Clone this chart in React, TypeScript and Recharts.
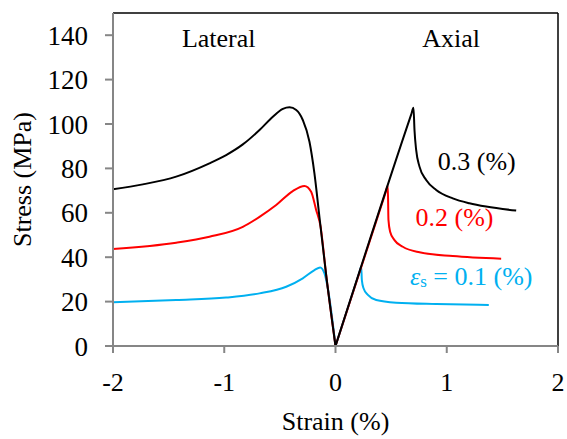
import { LineChart, Line, XAxis, YAxis, ReferenceLine, ReferenceDot, Label } from 'recharts'

// [strain %, stress MPa]
const blackLateral = [
  [-2.0, 70.6], [-1.732, 72.8], [-1.432, 76.3], [-1.133, 82.3], [-0.983, 86.0],
  [-0.833, 90.8], [-0.683, 97.3], [-0.563, 103.3], [-0.473, 106.8], [-0.413, 107.5],
  [-0.353, 106.3], [-0.294, 101.8], [-0.234, 92], [-0.19, 78], [-0.144, 58],
  [-0.084, 32], [0, 0],
]
const blackAxial = [
  [0, 0], [0.68, 104.2], [0.701, 107.3], [0.71, 97.3], [0.725, 88.3], [0.755, 80.8], [0.815, 74.8],
  [0.905, 70.3], [1.054, 66.5], [1.204, 64.3], [1.354, 62.8], [1.624, 61.0],
]
const redLateral = [
  [-2.0, 43.7], [-1.432, 46.5], [-1.133, 49.2], [-0.833, 53.7], [-0.683, 58.2],
  [-0.533, 63.5], [-0.384, 69.8], [-0.279, 72.1], [-0.219, 69.5], [-0.174, 61.3],
  [-0.135, 54], [-0.084, 32], [0, 0],
]
const redAxial = [
  [0, 0], [0.45, 69.1], [0.47, 72.2], [0.476, 56.8], [0.491, 51.5], [0.53, 47.7], [0.605, 44.7],
  [0.755, 42.2], [1.054, 40.5], [1.489, 39.3],
]
const blueLateral = [
  [-2.0, 19.7], [-1.432, 20.7], [-0.983, 21.8], [-0.683, 23.7], [-0.443, 26.7],
  [-0.294, 30.5], [-0.189, 34.2], [-0.138, 35.4], [-0.099, 32.7], [-0.069, 26], [0, 0],
]
const blueAxial = [
  [0, 0], [0.215, 33.2], [0.231, 35.7], [0.237, 29.7], [0.252, 26], [0.291, 23], [0.366, 20.7],
  [0.545, 19.5], [0.905, 18.9], [1.378, 18.5],
]

const xTicks = [-2, -1, 0, 1, 2]
const yTicks = [0, 20, 40, 60, 80, 100, 120, 140]

const toRows = (pts: number[][]) => pts.map(([x, y]) => ({ x, y }))

const FONT = 'Liberation Serif, Times New Roman, serif'
const AXIS = '#868686'
const BLUE = '#00B0F0'
const RED = '#FF0000'

const textAt = (content: any, color: string) => (p: any) => (
  <text
    x={p.cx}
    y={p.cy}
    textAnchor='middle'
    dominantBaseline='central'
    fontFamily={FONT}
    fontSize={26}
    fill={color}
  >
    {content}
  </text>
)

export default function App() {
  return (
    <div style={{ position: 'absolute', left: 0, top: 0, background: '#fff' }}>
      <LineChart width={567} height={439} margin={{ top: 13, right: 9, bottom: 0, left: 0 }}>
        <XAxis
          dataKey='x'
          type='number'
          domain={[-2, 2]}
          ticks={xTicks}
          stroke={AXIS}
          strokeWidth={2}
          tickSize={7}
          tickMargin={20}
          height={93}
          tick={{ fill: '#000', fontFamily: FONT, fontSize: 26 }}
        >
          <Label
            value='Strain (%)'
            position='insideBottom'
            offset={9}
            fontFamily={FONT}
            fontSize={26}
            fill='#000'
          />
        </XAxis>
        <YAxis
          type='number'
          domain={[0, 150]}
          ticks={yTicks}
          stroke={AXIS}
          strokeWidth={2}
          tickSize={8}
          tickMargin={17}
          width={113}
          tick={{ fill: '#000', fontFamily: FONT, fontSize: 27 }}
        >
          <Label
            content={(p: any) => {
              const vb = p.viewBox
              const cx = vb.x + 22
              const cy = vb.y + vb.height / 2
              return (
                <text
                  x={cx}
                  y={cy}
                  transform={`rotate(-90 ${cx} ${cy})`}
                  textAnchor='middle'
                  dominantBaseline='central'
                  fontFamily={FONT}
                  fontSize={26}
                  fill='#000'
                >
                  Stress (MPa)
                </text>
              )
            }}
          />
        </YAxis>
        <ReferenceLine y={150} stroke='#000' strokeWidth={1.5} />
        <ReferenceLine x={2} stroke='#000' strokeWidth={1.5} />

        <Line data={toRows(blueLateral)} dataKey='y' type='monotone' stroke={BLUE} strokeWidth={2} dot={false} isAnimationActive={false} />
        <Line data={toRows(blueAxial)} dataKey='y' type='monotone' stroke={BLUE} strokeWidth={2} dot={false} isAnimationActive={false} />
        <Line data={toRows(redLateral)} dataKey='y' type='monotone' stroke={RED} strokeWidth={2} dot={false} isAnimationActive={false} />
        <Line data={toRows(redAxial)} dataKey='y' type='monotone' stroke={RED} strokeWidth={2} dot={false} isAnimationActive={false} />
        <Line data={toRows(blackLateral)} dataKey='y' type='monotone' stroke='#000' strokeWidth={2} dot={false} isAnimationActive={false} />
        <Line data={toRows(blackAxial)} dataKey='y' type='monotone' stroke='#000' strokeWidth={2} dot={false} isAnimationActive={false} />

        <ReferenceDot x={-1.05} y={138.7} r={0} shape={textAt('Lateral', '#000')} />
        <ReferenceDot x={1.04} y={138.7} r={0} shape={textAt('Axial', '#000')} />
        <ReferenceDot x={1.27} y={82.9} r={0} shape={textAt('0.3 (%)', '#000')} />
        <ReferenceDot x={1.07} y={57.7} r={0} shape={textAt('0.2 (%)', RED)} />
        <ReferenceDot
          x={1.22}
          y={31.5}
          r={0}
          shape={textAt(
            <>
              <tspan fontStyle='italic'>ε</tspan>
              <tspan fontSize={17} dy={5}>s</tspan>
              <tspan dy={-5}> = 0.1 (%)</tspan>
            </>,
            BLUE
          )}
        />
      </LineChart>
    </div>
  )
}
